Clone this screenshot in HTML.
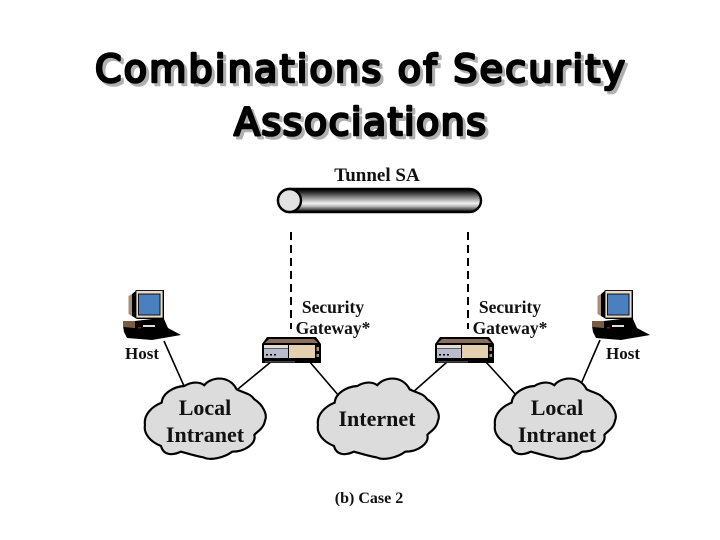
<!DOCTYPE html>
<html><head><meta charset="utf-8">
<style>html,body{margin:0;padding:0;background:#fff;width:720px;height:540px;overflow:hidden}svg{display:block}
.t{font-family:"DejaVu Sans","Liberation Sans",sans-serif;font-weight:normal;font-size:38px;text-anchor:middle;stroke-linejoin:round;stroke-linecap:round}
.s{font-family:"Liberation Serif",serif;font-weight:bold;fill:#111;text-anchor:middle}</style></head>
<body>
<svg width="720" height="540" viewBox="0 0 720 540" xmlns="http://www.w3.org/2000/svg">
<defs>
<linearGradient id="tube" x1="0" y1="0" x2="0" y2="1">
<stop offset="0" stop-color="#000"/><stop offset=".12" stop-color="#222"/><stop offset=".62" stop-color="#f0f0f0"/><stop offset=".75" stop-color="#bbb"/><stop offset="1" stop-color="#000"/>
</linearGradient>
<g id="cloud"><path transform="scale(.3333)" fill="#dcdcdc" stroke="#000" stroke-width="6.500" stroke-linejoin="round" d="M148 48 C170 34 195 35 208 46 C222 24 280 10 305 58 C335 72 345 70 358 88 C385 105 398 135 390 152 C385 178 365 185 358 195 C365 220 330 245 292 245 C265 265 225 272 205 262 C180 258 150 248 138 245 C110 258 85 255 78 228 C45 215 25 190 30 165 C25 135 50 110 80 98 C82 70 115 50 148 48Z"/></g>
<g id="pc">
<path d="M6.500 6 L10 4 L10 26 L6.500 24Z" fill="#a89078"/>
<path d="M10 4 L15 0 L42 0 L42 29 L15 29 L10 26Z" fill="#000"/>
<rect x="14" y="0.500" width="27" height="27.500" fill="#e8dcc8" stroke="#000" stroke-width=".8"/>
<rect x="16.500" y="4" width="21.500" height="21" fill="#4a80c0" stroke="#111"/>
<path d="M1 36 L13 38 L13 31 L30 29 L42 29 L46 38 L59 45 L30 50 L5 48 L2 42Z" fill="#000"/>
<path d="M1 31 L13 31 L13 38 L1 37Z" fill="#7a5c40"/>
<rect x="21" y="35" width="12" height="2" fill="#ddd"/>
<rect x="16" y="37" width="3" height="1.500" fill="#702020"/>
</g>
<g id="gw">
<path d="M0 8 L5 1 L54 1 L59 8 L59 27 L0 27Z" fill="#000"/>
<path d="M3 7 L7 3 L52 3 L56 7Z" fill="#8a7058"/>
<rect x="2" y="9" width="24" height="3" fill="#e4ded0"/>
<rect x="2" y="12.500" width="24" height="9.500" fill="#b8bccc"/>
<rect x="4" y="18" width="2" height="1.500" fill="#000"/><rect x="8" y="18" width="2" height="1.500" fill="#000"/><rect x="12" y="18" width="2" height="1.500" fill="#000"/>
<rect x="27" y="9" width="26" height="13" fill="#e4cfae"/>
<rect x="54.500" y="11" width="2.500" height="4" fill="#a89078"/>
<rect x="54.500" y="18" width="2.500" height="3" fill="#a89078"/>
<rect x="3" y="25.500" width="30" height=".8" fill="#888"/>
</g>
</defs>

<!-- Title -->
<g class="t" fill="#b0b0b0" stroke="#b0b0b0" stroke-width="2.600">
<text x="363" y="85" textLength="530" lengthAdjust="spacing">Combinations of Security</text>
<text x="363" y="138" textLength="252" lengthAdjust="spacing">Associations</text>
</g>
<g class="t" fill="#000" stroke="#000" stroke-width="2.600">
<text x="360" y="82" textLength="530" lengthAdjust="spacing">Combinations of Security</text>
<text x="360" y="135" textLength="252" lengthAdjust="spacing">Associations</text>
</g>

<!-- Tunnel -->
<text class="s" x="377" y="181" font-size="19">Tunnel SA</text>
<rect x="278" y="189" width="203" height="23" rx="11.500" fill="url(#tube)" stroke="#000" stroke-width="2.400"/>
<ellipse cx="289.500" cy="200.500" rx="11.500" ry="11.500" fill="#e2e2e2" stroke="#000" stroke-width="2.400"/>

<!-- Dashed lines -->
<path d="M291 232 V329 M468 232 V329" stroke="#000" stroke-width="2" stroke-dasharray="8 5" fill="none"/>

<!-- Connectors -->
<path d="M164 341 L184 386 M272 361 L238 389 M309 361 L339 396 M447 362 L412 393 M486 362 L517 396 M600 340 L581 384" stroke="#000" stroke-width="1.600" fill="none"/>

<!-- Clouds -->
<use href="#cloud" x="135" y="370"/>
<use href="#cloud" x="308" y="370"/>
<use href="#cloud" x="485" y="370"/>
<text class="s" x="205" y="415" font-size="22">Local</text>
<text class="s" x="205" y="442" font-size="22">Intranet</text>
<text class="s" x="377" y="426" font-size="22">Internet</text>
<text class="s" x="557" y="415" font-size="22">Local</text>
<text class="s" x="557" y="442" font-size="22">Intranet</text>

<!-- Hosts -->
<use href="#pc" x="122" y="290"/>
<use href="#pc" x="591" y="290"/>
<text class="s" x="142" y="359" font-size="17">Host</text>
<text class="s" x="623" y="359" font-size="17">Host</text>

<!-- Gateways -->
<use href="#gw" x="262" y="336"/>
<use href="#gw" x="435" y="336"/>
<text class="s" x="333" y="313" font-size="17.500">Security</text>
<text class="s" x="333" y="334" font-size="17.500">Gateway*</text>
<text class="s" x="510" y="313" font-size="17.500">Security</text>
<text class="s" x="510" y="334" font-size="17.500">Gateway*</text>

<text class="s" x="369" y="503" font-size="16">(b) Case 2</text>
</svg>
</body></html>
